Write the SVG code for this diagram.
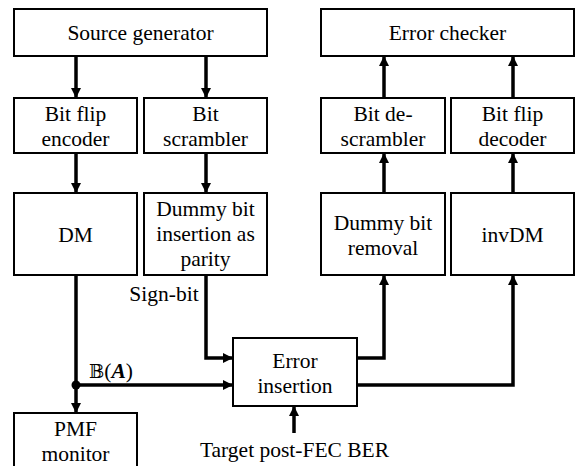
<svg xmlns="http://www.w3.org/2000/svg" width="576" height="466" viewBox="0 0 576 466">
<defs>
<marker id="ah" viewBox="0 0 10 10" refX="10" refY="5" markerWidth="10" markerHeight="10" markerUnits="userSpaceOnUse" orient="auto"><path d="M0,0 L10,5 L0,10 z" fill="#000"/></marker>
</defs>
<rect width="576" height="466" fill="#fff"/>
<g id="source"><rect x="14" y="9" width="253" height="47" fill="#fff" stroke="#000" stroke-width="2"/><text font-family="Liberation Serif" font-size="21.5" text-anchor="middle" x="140.5" y="40">Source generator</text></g>
<g id="checker"><rect x="321" y="9" width="253" height="47" fill="#fff" stroke="#000" stroke-width="2"/><text font-family="Liberation Serif" font-size="21.5" text-anchor="middle" x="447.5" y="40">Error checker</text></g>
<g id="bfenc"><rect x="14" y="98" width="123" height="55" fill="#fff" stroke="#000" stroke-width="2"/><text font-family="Liberation Serif" font-size="21.5" text-anchor="middle" x="75.5" y="121">Bit flip</text><text font-family="Liberation Serif" font-size="21.5" text-anchor="middle" x="75.5" y="146">encoder</text></g>
<g id="scr"><rect x="144" y="98" width="123" height="55" fill="#fff" stroke="#000" stroke-width="2"/><text font-family="Liberation Serif" font-size="21.5" text-anchor="middle" x="205.5" y="121">Bit</text><text font-family="Liberation Serif" font-size="21.5" text-anchor="middle" x="205.5" y="146">scrambler</text></g>
<g id="descr"><rect x="321" y="98" width="124" height="55" fill="#fff" stroke="#000" stroke-width="2"/><text font-family="Liberation Serif" font-size="21.5" text-anchor="middle" x="383" y="121">Bit de-</text><text font-family="Liberation Serif" font-size="21.5" text-anchor="middle" x="383" y="146">scrambler</text></g>
<g id="bfdec"><rect x="451" y="98" width="123" height="55" fill="#fff" stroke="#000" stroke-width="2"/><text font-family="Liberation Serif" font-size="21.5" text-anchor="middle" x="512.5" y="121">Bit flip</text><text font-family="Liberation Serif" font-size="21.5" text-anchor="middle" x="512.5" y="146">decoder</text></g>
<g id="dm"><rect x="14" y="193" width="123" height="82" fill="#fff" stroke="#000" stroke-width="2"/><text font-family="Liberation Serif" font-size="21.5" text-anchor="middle" x="75.5" y="242">DM</text></g>
<g id="dins"><rect x="144" y="193" width="123" height="82" fill="#fff" stroke="#000" stroke-width="2"/><text font-family="Liberation Serif" font-size="21.5" text-anchor="middle" x="205.5" y="216">Dummy bit</text><text font-family="Liberation Serif" font-size="21.5" text-anchor="middle" x="205.5" y="241">insertion as</text><text font-family="Liberation Serif" font-size="21.5" text-anchor="middle" x="205.5" y="266">parity</text></g>
<g id="drem"><rect x="321" y="193" width="124" height="82" fill="#fff" stroke="#000" stroke-width="2"/><text font-family="Liberation Serif" font-size="21.5" text-anchor="middle" x="383" y="230">Dummy bit</text><text font-family="Liberation Serif" font-size="21.5" text-anchor="middle" x="383" y="255">removal</text></g>
<g id="invdm"><rect x="451" y="193" width="123" height="82" fill="#fff" stroke="#000" stroke-width="2"/><text font-family="Liberation Serif" font-size="21.5" text-anchor="middle" x="512.5" y="242">invDM</text></g>
<g id="errins"><rect x="233" y="338" width="124" height="68" fill="#fff" stroke="#000" stroke-width="2"/><text font-family="Liberation Serif" font-size="21.5" text-anchor="middle" x="295" y="368">Error</text><text font-family="Liberation Serif" font-size="21.5" text-anchor="middle" x="295" y="393">insertion</text></g>
<g id="pmf"><rect x="14" y="413" width="123" height="60" fill="#fff" stroke="#000" stroke-width="2"/><text font-family="Liberation Serif" font-size="21.5" text-anchor="middle" x="75.5" y="436">PMF</text><text font-family="Liberation Serif" font-size="21.5" text-anchor="middle" x="75.5" y="461">monitor</text></g>
<g id="connectors" fill="none" stroke="#000" stroke-width="3.5">
<line x1="76" y1="56" x2="76" y2="98" marker-end="url(#ah)"/>
<line x1="206" y1="56" x2="206" y2="98" marker-end="url(#ah)"/>
<line x1="76" y1="153" x2="76" y2="193" marker-end="url(#ah)"/>
<line x1="206" y1="153" x2="206" y2="193" marker-end="url(#ah)"/>
<line x1="384" y1="98" x2="384" y2="56" marker-end="url(#ah)"/>
<line x1="513" y1="98" x2="513" y2="56" marker-end="url(#ah)"/>
<line x1="384" y1="193" x2="384" y2="153" marker-end="url(#ah)"/>
<line x1="513" y1="193" x2="513" y2="153" marker-end="url(#ah)"/>
<line x1="76" y1="275" x2="76" y2="413" marker-end="url(#ah)"/>
<line x1="76" y1="385" x2="233" y2="385" marker-end="url(#ah)"/>
<circle cx="76" cy="385" r="4.5" fill="#000" stroke="none"/>
<polyline points="206,275 206,358 233,358" marker-end="url(#ah)"/>
<polyline points="357,358 384,358 384,275" marker-end="url(#ah)"/>
<polyline points="357,385 513,385 513,275" marker-end="url(#ah)"/>
<line x1="294" y1="433" x2="294" y2="406" marker-end="url(#ah)"/>
</g>
<text font-family="Liberation Serif" font-size="21.5" text-anchor="middle" x="164" y="301">Sign-bit</text>
<text font-family="Liberation Serif" font-size="21.5" text-anchor="middle" x="111" y="378"><tspan font-family="DejaVu Serif" font-size="18">𝔹</tspan>(<tspan font-weight="bold" font-style="italic">A</tspan>)</text>
<text font-family="Liberation Serif" font-size="21.5" text-anchor="middle" x="294.5" y="457">Target post-FEC BER</text>
</svg>
